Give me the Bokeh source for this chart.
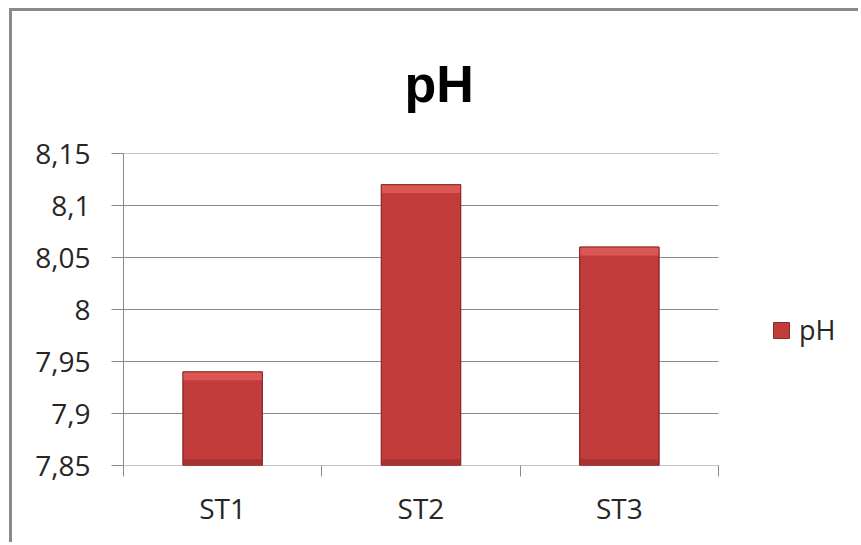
from bokeh.plotting import figure
from bokeh.models import Range1d, FixedTicker, CustomJSTickFormatter, Legend, LegendItem
from bokeh.embed import file_html
from bokeh.resources import INLINE

# ---- data ----
categories = ["ST1", "ST2", "ST3"]
ph_values = [7.94, 8.12, 8.06]
y_ticks = [7.85, 7.90, 7.95, 8.00, 8.05, 8.10, 8.15]
series_name = "pH"
chart_title = "pH"

xs = list(range(1, len(categories) + 1))
bounds = [i - 0.5 for i in xs] + [xs[-1] + 0.5]

GRAY = "#8a8a8a"
TXT = "#262626"
BASE = y_ticks[0]

# layout (pixels inside the canvas)
CANVAS_W, CANVAS_H = 849, 534
PLOT_L, PLOT_R = 111, 706          # category area (left/right edge)
FRAME_R = CANVAS_W                 # frame extends to the right edge to hold the legend
cat_px = (PLOT_R - PLOT_L) / len(categories)
x_end = bounds[0] + (FRAME_R - PLOT_L) / cat_px

p = figure(width=CANVAS_W, height=CANVAS_H, output_backend="svg", toolbar_location=None,
           x_range=Range1d(bounds[0], x_end),
           y_range=Range1d(y_ticks[0], y_ticks[-1]),
           min_border_left=PLOT_L, min_border_right=0,
           min_border_top=141, min_border_bottom=80)
p.outline_line_color = None
p.background_fill_color = "white"
p.border_fill_color = "white"
p.styles = {"margin-left": "9px", "margin-top": "8px",
            "border-left": "3px solid " + GRAY, "border-top": "3px solid " + GRAY}

# title
p.title.text = chart_title
p.title.text_font = "Liberation Sans"
p.title.text_font_size = "52px"
p.title.text_font_style = "bold"
p.title.text_color = "black"
p.title.align = "left"
p.title.offset = 281
p.title.standoff = 82

# horizontal grid lines across the category area only (bottom one = x axis line)
p.segment(x0=bounds[0], x1=bounds[-1], y0=y_ticks, y1=y_ticks,
          line_color=GRAY, line_width=1)

# bars with a simple bevel look
W = 0.40
bars = p.vbar(x=xs, top=ph_values, bottom=BASE, width=W,
              fill_color="#C33C3C", line_color="#8E2A2A", line_width=1)
p.vbar(x=xs, top=[BASE + 0.006] * len(xs), bottom=BASE, width=W,
       fill_color="#A83131", line_color=None)
p.vbar(x=xs, top=ph_values, bottom=[v - 0.008 for v in ph_values], width=W,
       fill_color="#DC5654", line_color=None)
p.vbar(x=xs, top=ph_values, bottom=BASE, width=W,
       fill_color=None, line_color="#8E2A2A", line_width=1)

# y axis
yax = p.yaxis[0]
yax.ticker = FixedTicker(ticks=y_ticks, minor_ticks=[])
yax.formatter = CustomJSTickFormatter(
    code="return String(parseFloat(tick.toFixed(2))).replace('.', ',');")
yax.major_label_text_font = "Open Sans"
yax.major_label_text_font_size = "28px"
yax.major_label_text_color = TXT
yax.major_tick_out = 12
yax.major_tick_in = 0
yax.major_label_standoff = 21
yax.axis_line_color = GRAY
yax.major_tick_line_color = GRAY
yax.minor_tick_line_color = None

# x axis
xax = p.xaxis[0]
xax.ticker = FixedTicker(ticks=xs, minor_ticks=bounds)
xax.formatter = CustomJSTickFormatter(args=dict(cats=categories),
    code="return cats[Math.round(tick) - 1] || '';")
xax.major_label_text_font = "Open Sans"
xax.major_label_text_font_size = "28px"
xax.major_label_text_color = TXT
xax.major_tick_out = 0
xax.major_tick_in = 0
xax.minor_tick_out = 11
xax.minor_tick_in = 0
xax.minor_tick_line_color = GRAY
xax.major_label_standoff = 12
xax.axis_line_color = None

p.xgrid.grid_line_color = None
p.ygrid.grid_line_color = None

legend = Legend(items=[LegendItem(label=series_name, renderers=[bars])],
                location=(648, 117), padding=0, margin=0, spacing=0,
                glyph_width=20, glyph_height=20, label_standoff=8,
                label_text_font="Open Sans", label_text_font_size="27px",
                label_text_color=TXT, border_line_color=None,
                background_fill_alpha=0)
p.add_layout(legend, "center")

open("out.html", "w").write(file_html(p, INLINE))
